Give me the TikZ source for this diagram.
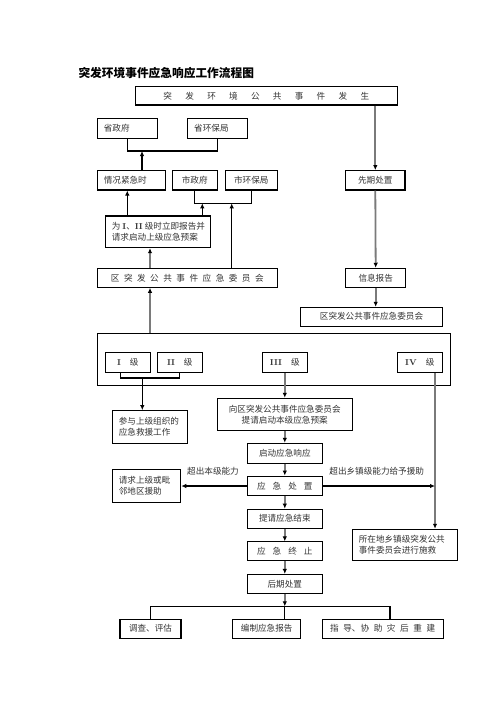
\documentclass[tikz,border=0pt]{standalone}
\usepackage{fontspec}
\newfontfamily\cjk{Noto Sans CJK SC}
\usetikzlibrary{arrows.meta}
\newcommand{\lvl}[1]{{\rmfamily\bfseries #1}}
\newcommand{\gap}[1]{\spaceskip=#1\relax}

\begin{document}
\begin{tikzpicture}[x=1pt, y=-1pt, node distance=32.7pt,
  flow box/.style={draw, line width=1.1pt, inner sep=0pt, text=black!80, font=\cjk\fontsize{8.6}{11}\selectfont},
  left box/.style={flow box, align=left, inner xsep=6.5pt},
  link/.style={line width=1.1pt},
  black link/.style={line width=1.1pt, -{Latex[length=5pt,width=4.5pt]}},
  gray link/.style={draw=black!52, line width=1.8pt, -{Latex[black,length=5pt,width=4.5pt]}},
  note/.style={font=\cjk\fontsize{8.6}{11}\selectfont, text=black!80, inner sep=1pt}]

			\useasboundingbox (0,0) rectangle (496,702);

			\node[anchor=west, font=\cjk\bfseries\fontsize{11.7}{14}\selectfont] (0) at (75,73) {突发环境事件应急响应工作流程图};

			\node[flow box, minimum width=262pt, minimum height=18.3pt] (1) at (266.3,95.8) {\gap{13.3pt}突 发 环 境 公 共 事 件 发 生};

			\node[left box, text width=47pt, minimum height=20pt] (2) at (127.3,128.3) {省政府};
			\node[left box, text width=46.6pt, minimum height=20pt] (3) at (217.5,128.3) {省环保局};

			\node[left box, text width=55pt, minimum height=19.3pt] (4) at (131.3,180.3) {情况紧急时};
			\node[flow box, minimum width=45.3pt, minimum height=19.3pt] (5) at (194.7,180.3) {市政府};
			\node[flow box, minimum width=52pt, minimum height=19.3pt] (6) at (251.3,180.3) {市环保局};
			\node[flow box, minimum width=59.3pt, minimum height=19.3pt] (7) at (375.3,180.3) {先期处置};

			\node[left box, text width=91.7pt, minimum height=31.7pt] (8) at (157.7,231.8) {为\kern2pt\lvl{I}、\lvl{II}\kern2pt 级时立即报告并\\请求启动上级应急预案};

			\node[flow box, minimum width=180pt, minimum height=19pt] (9) at (187.3,277.8) {\gap{4.5pt}区 突 发 公 共 事 件 应 急 委 员 会};
			\node[flow box, minimum width=60pt, minimum height=19pt] (10) at (375.7,277.8) {信息报告};
			\node[flow box, minimum width=142.4pt, minimum height=18.7pt] (11) at (371.5,316.7) {区突发公共事件应急委员会};

			\node[flow box, minimum width=352.7pt, minimum height=52.3pt] (12) at (273.7,359.2) {};
			\node[flow box, minimum width=45pt, minimum height=20pt] (13) at (127.8,362.3) {\gap{9pt}\lvl{I} 级};
			\node[flow box, minimum width=45pt, minimum height=20pt] (14) at (179.8,362.3) {\gap{9pt}\lvl{II} 级};
			\node[flow box, minimum width=45pt, minimum height=20pt] (15) at (284.8,362.3) {\gap{9pt}\lvl{III} 级};
			\node[flow box, minimum width=45pt, minimum height=20pt] (16) at (419.8,362.3) {\gap{9pt}\lvl{IV} 级};

			\node[left box, text width=62pt, minimum height=32.6pt] (17) at (149.8,427) {参与上级组织的\\应急救援工作};
			\node[flow box, align=center, minimum width=134.7pt, minimum height=32.4pt] (18) at (284.7,414.5) {向区突发公共事件应急委员会\\提请启动本级应急预案};

			\node[flow box, minimum width=75pt, minimum height=20pt] (19) at (284.8,453.3) {启动应急响应};
			\node[flow box, minimum width=75pt, minimum height=19.7pt] (20) [below of=19] {\gap{7pt}应 急 处 置};
			\node[flow box, minimum width=75pt, minimum height=19pt] (22) [below of=20] {提请应急结束};
			\node[flow box, minimum width=75pt, minimum height=19pt] (23) [below of=22] {\gap{7pt}应 急 终 止};
			\node[flow box, minimum width=75pt, minimum height=19.3pt] (24) [below of=23] {后期处置};

			\node[left box, text width=55.4pt, minimum height=33.3pt] (21) at (146.5,485.7) {请求上级或毗\\邻地区援助};
			\node[left box, text width=92.4pt, minimum height=31.4pt] (25) at (405,545) {所在地乡镇级突发公共\\事件委员会进行施救};

			\node[flow box, minimum width=61pt, minimum height=19.3pt] (26) at (150.5,628.7) {调查、评估};
			\node[flow box, minimum width=68pt, minimum height=19.3pt] (27) at (266.7,628.7) {编制应急报告};
			\node[flow box, minimum width=120.7pt, minimum height=19.3pt] (28) at (382.7,628.7) {\gap{4.6pt}指 导、协 助 灾 后 重 建};

			\node[note] (l1) at (213,471) {超出本级能力};
			\node[note] (l2) at (376.7,471) {超出乡镇级能力给予援助};

			\coordinate (k1) at (150,0);
			\coordinate (k2) at (435,0);
			\coordinate (b1) at (142,151);
			\coordinate (b2) at (202.3,203.3);
			\coordinate (b3) at (231.7,203.3);
			\coordinate (b4) at (142.3,378);
			\coordinate (b5) at (284.8,606.3);

			% report upwards
			\draw[link] (2.south) |- (b1) -| (3.south);
			\draw[black link] (4.north -| b1) -- (b1);
			\draw[black link] (8.north -| 2.south) -- (4.south -| 2.south);
			\draw[link] (5.south) |- (b2) -| (6.south);
			\draw[black link] (8.north -| b2) -- (b2);
			\draw[black link] (9.north -| b3) -- (b3);
			\draw[gray link] (9.north -| k1) -- (8.south -| k1);
			\draw[gray link] (12.north -| k1) -- (9.south -| k1);

			% first response
			\draw[gray link] (1.south -| 7.north) -- (7.north);
			\draw[gray link] (7.south) -- (10.north);
			\draw[gray link] (10.south) -- (10.south |- 11.north);

			% levels
			\draw[link] ([xshift=-7.5pt]13.south) |- (b4) -| (14.south);
			\draw[black link] (b4) -- (b4 |- 17.north);
			\draw[gray link] (15.south) -- (15.south |- 18.north);
			\draw[gray link] (16.south -| k2) -- (25.north -| k2);

			% district chain
			\draw[gray link] (18.south -| 19.north) -- (19.north);
			\draw[gray link] (19.south) -- (20.north);
			\draw[gray link] (20.south) -- (22.north);
			\draw[gray link] (22.south) -- (23.north);
			\draw[gray link] (23.south) -- (24.north);
			\draw[black link] (20.west) -- (20.west -| 21.east);
			\draw[black link] (20.east) -- (20.east -| k2);

			% after
			\draw[gray link] (24.south) -- (b5);
			\draw[link] (26.north) |- (b5) -| ([xshift=7.3pt]28.north);
			\draw[link] (b5) -- (b5 |- 27.north);

		\end{tikzpicture}
\end{document}
